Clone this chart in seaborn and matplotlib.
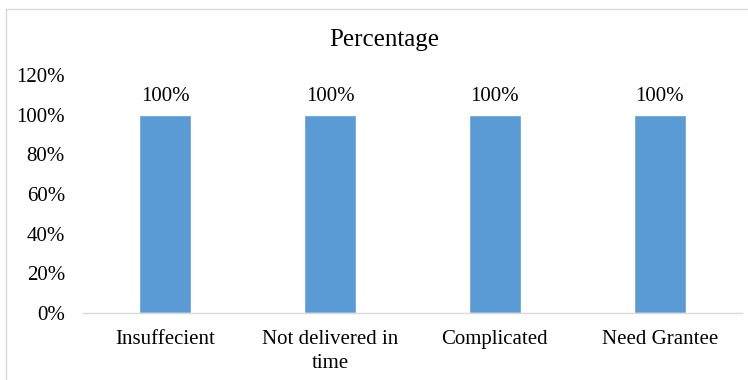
import matplotlib
matplotlib.use("Agg")
import matplotlib.pyplot as plt
import seaborn as sns
import pandas as pd
from matplotlib.lines import Line2D

categories = ["Insuffecient", "Not delivered in\ntime", "Complicated", "Need Grantee"]
values = [1.0, 1.0, 1.0, 1.0]
yticks = [0, 0.2, 0.4, 0.6, 0.8, 1.0, 1.2]
title = "Percentage"

sns.set_theme(style="white")
plt.rcParams['font.family'] = ['Liberation Serif', 'DejaVu Serif']

df = pd.DataFrame({"cat": categories, "val": values})

fig = plt.figure(figsize=(7.48, 3.80), dpi=100)
ax = fig.add_axes([83/748, 1-313/380, (742-83)/748, (313-75)/380])
sns.barplot(data=df, x="cat", y="val", color="#5B9BD5", width=0.315,
            saturation=1, ax=ax)
ax.set_ylim(0, 1.2)
ax.set_yticks(yticks)
ax.set_yticklabels([f"{int(round(t*100))}%" for t in yticks])
ax.set_xlabel("")
ax.set_ylabel("")
ax.tick_params(axis="both", length=0, labelsize=15, colors="black")
ax.tick_params(axis="y", pad=13)
ax.tick_params(axis="x", pad=12)
for lbl in ax.get_xticklabels():
    lbl.set_linespacing(1.35)
for s in ["top", "right", "left"]:
    ax.spines[s].set_visible(False)
ax.spines["bottom"].set_color("#D9D9D9")
ax.spines["bottom"].set_linewidth(1)
ax.grid(False)

for c in ax.containers:
    ax.bar_label(c, labels=[f"{int(round(v*100))}%" for v in values],
                 padding=6, fontsize=15, color="black")

fig.text(384/748, 1-40/380, title, ha="center", va="center", fontsize=18,
         color="black")

# chart border (visible left and top edges)
fig.add_artist(Line2D([6/748, 6/748], [0, 1-9/380], transform=fig.transFigure,
                      color="#D9D9D9", lw=1))
fig.add_artist(Line2D([6/748, 1], [1-9/380, 1-9/380], transform=fig.transFigure,
                      color="#D9D9D9", lw=1))

fig.savefig("out.png", dpi=100)
